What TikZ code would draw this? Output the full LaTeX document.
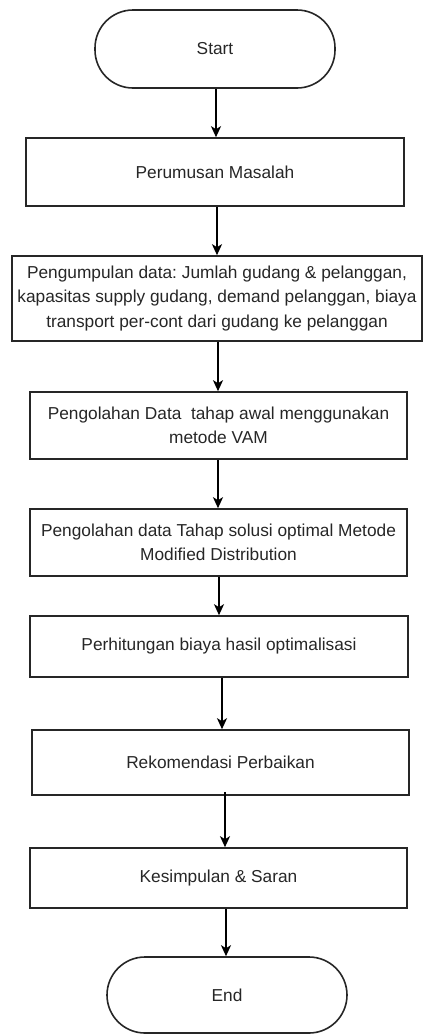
\documentclass[tikz,border=0pt]{standalone}
\usepackage{fontspec}
\setmainfont{Liberation Sans}
\usetikzlibrary{arrows.meta}
\frenchspacing
\begin{document}
\begin{tikzpicture}[x=1pt,y=-1pt,
  every node/.style={font=\fontsize{17.3pt}{24.5pt}\selectfont, text=black!85},
  procbox/.style={draw=black!85, line width=1.6pt, rectangle, align=center, inner sep=0pt},
  termbox/.style={draw=black!85, line width=1.6pt, rectangle, rounded corners=38pt, inner sep=0pt},
  arr/.style={draw=black, line width=2.2pt, -{Stealth[length=11pt,width=10pt,inset=3pt]}}]
\useasboundingbox (0,0) rectangle (424,1034);
\node[termbox, minimum width=240pt, minimum height=78pt] (start) at (215,49) {Start};
\node[procbox, minimum width=378pt, minimum height=68pt] (b1) at (215,172) {Perumusan Masalah};
\node[procbox, minimum width=410pt, minimum height=85pt] (b2) at (217,298.5) {Pengumpulan data: Jumlah gudang \& pelanggan,\\kapasitas supply gudang, demand pelanggan, biaya\\transport per-cont dari gudang ke pelanggan};
\node[procbox, minimum width=377pt, minimum height=67pt] (b3) at (218.5,425.5) {Pengolahan Data\ \ tahap awal menggunakan\\metode VAM};
\node[procbox, minimum width=377pt, minimum height=67pt] (b4) at (218.5,542.5) {Pengolahan data Tahap solusi optimal Metode\\Modified Distribution};
\node[procbox, minimum width=378pt, minimum height=61pt] (b5) at (219,646.5) {Perhitungan biaya hasil optimalisasi};
\node[procbox, minimum width=377pt, minimum height=65pt] (b6) at (220.5,762.5) {Rekomendasi Perbaikan};
\node[procbox, minimum width=377pt, minimum height=60pt] (b7) at (218.5,878) {Kesimpulan \& Saran};
\node[termbox, minimum width=240pt, minimum height=76pt] (end) at (227,995) {End};
\draw[arr] ([xshift=1pt]start.south) -- ([xshift=1pt]start.south |- b1.north);
\draw[arr] ([xshift=2pt]b1.south) -- ([xshift=2pt]b1.south |- b2.north);
\draw[arr] ([xshift=1pt]b2.south) -- ([xshift=1pt]b2.south |- b3.north);
\draw[arr] ([xshift=-0.5pt]b3.south) -- ([xshift=-0.5pt]b3.south |- b4.north);
\draw[arr] ([xshift=0.5pt]b4.south) -- ([xshift=0.5pt]b4.south |- b5.north);
\draw[arr] ([xshift=3pt]b5.south) -- ([xshift=3pt]b5.south |- b6.north);
\draw[arr] ([xshift=4.5pt,yshift=4pt]b6.south) -- ([xshift=4.5pt]b6.south |- b7.north);
\draw[arr] ([xshift=7.5pt]b7.south) -- ([xshift=7.5pt]b7.south |- end.north);
\end{tikzpicture}
\end{document}
